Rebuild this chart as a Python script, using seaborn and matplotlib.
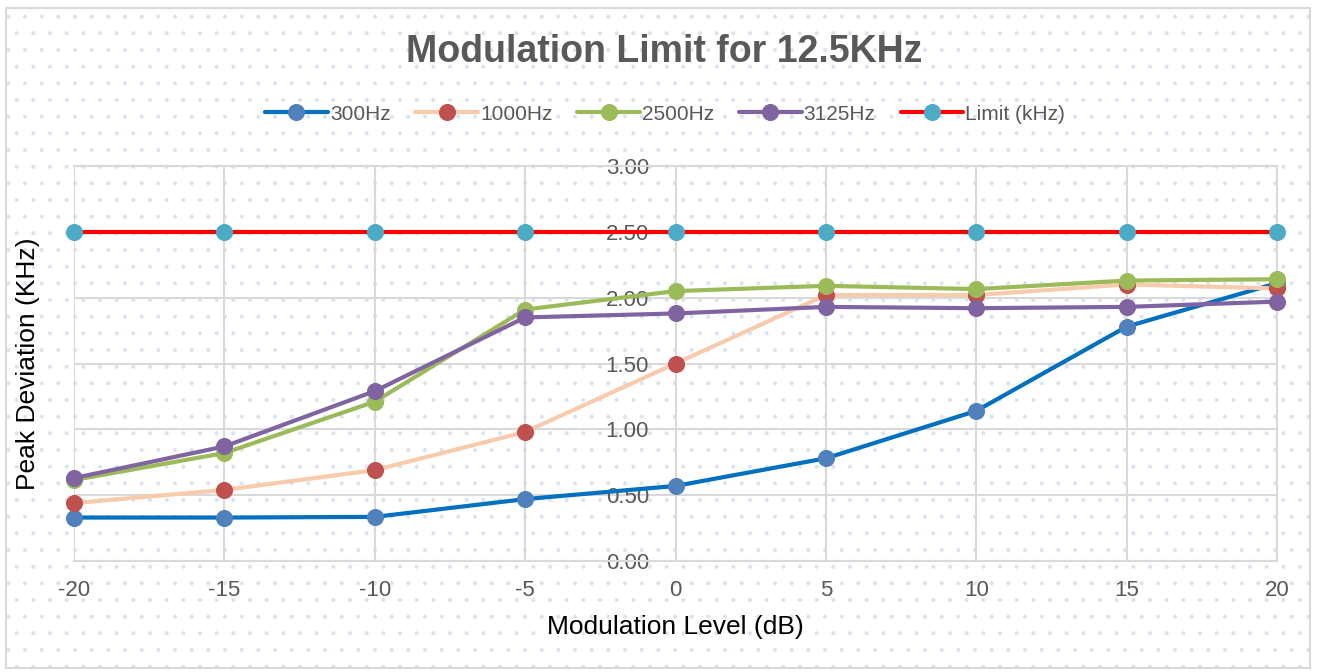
import matplotlib
matplotlib.use("Agg")
import matplotlib.pyplot as plt
import seaborn as sns
import pandas as pd
from matplotlib.patches import Rectangle

# data
levels = [-20, -15, -10, -5, 0, 5, 10, 15, 20]
hz300 = [0.33, 0.33, 0.335, 0.47, 0.57, 0.78, 1.14, 1.78, 2.11]
hz1000 = [0.44, 0.54, 0.69, 0.98, 1.50, 2.02, 2.02, 2.10, 2.07]
hz2500 = [0.615, 0.82, 1.21, 1.91, 2.05, 2.09, 2.065, 2.13, 2.14]
hz3125 = [0.63, 0.87, 1.29, 1.85, 1.88, 1.93, 1.92, 1.93, 1.97]
limit = [2.5] * 9
yticks = [0, 0.5, 1.0, 1.5, 2.0, 2.5, 3.0]

series = [
    ("300Hz", hz300, "#0070C0", "#4F81BD"),
    ("1000Hz", hz1000, "#F8CBAD", "#C0504D"),
    ("2500Hz", hz2500, "#9BBB59", "#9BBB59"),
    ("3125Hz", hz3125, "#8064A2", "#8064A2"),
    ("Limit (kHz)", limit, "#FF0000", "#4BACC6"),
]

sns.set_theme(style="white")
plt.rcParams["font.family"] = ["Liberation Sans", "DejaVu Sans"]
plt.rcParams["hatch.linewidth"] = 0.5
plt.rcParams["axes.unicode_minus"] = False

fig = plt.figure(figsize=(13.17, 6.72), dpi=100)
fig.patch.set_facecolor("white")

# dotted background + light border like the Excel chart area
bg = Rectangle((6 / 1317, 4 / 672), 1304 / 1317, 660 / 672, transform=fig.transFigure,
               facecolor="white", edgecolor="#D8E4F3", hatch=".", linewidth=0, zorder=-10)
fig.add_artist(bg)
border = Rectangle((6 / 1317, 4 / 672), 1304 / 1317, 660 / 672, transform=fig.transFigure,
                   facecolor="none", edgecolor="#D9D9D9", linewidth=1.5, zorder=-9)
fig.add_artist(border)

ax = fig.add_axes([74 / 1317, 1 - 561 / 672, 1203 / 1317, 395 / 672])
ax.set_facecolor("none")

for name, vals, lc, mc in series:
    df = pd.DataFrame({"level": levels, "value": vals})
    sns.lineplot(data=df, x="level", y="value", ax=ax, color=lc, linewidth=3,
                 marker="o", markersize=11.5, markerfacecolor=mc, markeredgecolor=mc,
                 label=name, clip_on=False, zorder=3)

ax.set_xlim(-20, 20)
ax.set_ylim(0, 3)
ax.set_xticks(levels)
ax.set_yticks(yticks)
ax.set_yticklabels([f"{v:.2f}" for v in yticks])
ax.grid(True, color="#D9D9D9", linewidth=1.5)
ax.set_axisbelow(True)

for s in ["top", "right", "bottom"]:
    ax.spines[s].set_color("#D9D9D9")
    ax.spines[s].set_linewidth(1.5)
ax.spines["left"].set_position(("data", 0))
ax.spines["left"].set_visible(False)

ax.tick_params(axis="y", length=0, pad=19, labelsize=16, labelcolor="#595959")
ax.tick_params(axis="x", length=0, pad=14, labelsize=16, labelcolor="#595959")

ax.set_xlabel("Modulation Level (dB)", fontsize=19, color="black", labelpad=10)
ax.set_ylabel("Peak Deviation (KHz)", fontsize=19, color="black")
ax.yaxis.set_label_coords(-0.028, 0.5)

ax.get_legend().remove()
handles, labels = ax.get_legend_handles_labels()
fig.legend(handles, labels, loc="center", bbox_to_anchor=(0.505, 0.83), ncol=5,
           frameon=False, handlelength=3.0, columnspacing=1.2,
           handletextpad=0.1, prop={"size": 15},
           labelcolor="#595959")

fig.text(0.504, 0.922, "Modulation Limit for 12.5KHz", ha="center", va="center",
         fontsize=27, fontweight="bold", color="#595959")

fig.savefig("out.png", dpi=100)
